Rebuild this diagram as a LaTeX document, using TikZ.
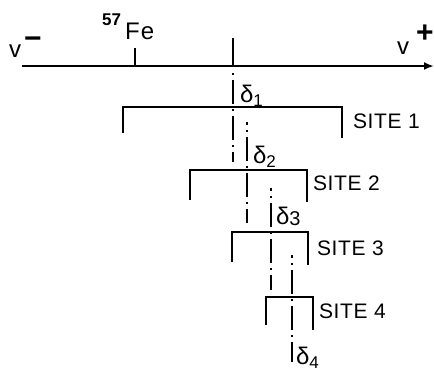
\documentclass[tikz,border=0pt]{standalone}
\usepackage{fontspec}
\setmainfont{Liberation Sans}
\usetikzlibrary{arrows.meta}
\begin{document}
\begin{tikzpicture}[x=1pt,y=-1pt,line width=2.1pt,
  lbl/.style={font=\fontsize{21}{21}\selectfont\addfontfeatures{LetterSpace=3},anchor=base west,inner sep=0pt},
  dl/.style={font=\fontsize{24}{24}\selectfont,anchor=base west,inner sep=0pt},
  big/.style={font=\fontsize{24}{24}\selectfont\addfontfeatures{LetterSpace=5},anchor=base west,inner sep=0pt},
  sup/.style={font=\fontsize{30}{30}\selectfont\bfseries,inner sep=0pt},
  cl/.style={dash pattern=on 2pt off 5pt on 24pt off 5pt},
  leg/.style={line width=2.3pt}]
\useasboundingbox (0,0) rectangle (434,375);
% axis
\coordinate (ax0) at (22,66);
\coordinate (ax1) at (434,66);
\draw[-{Latex[length=10pt,width=8pt]}] (ax0) -- (ax1);
\node[big] (vm) at (8,57) {v};
\node[sup] (vms) at (33,43) {−};
\node[big] (vp) at (396,54) {v};
\node[sup] (vps) at (425,34) {+};
% 57Fe
\coordinate (fe0) at (135,48);
\coordinate (fe1) at (135,66);
\draw (fe0) -- (fe1);
\node[big] (fe) at (124,39) {Fe};
\node[font=\fontsize{17}{17}\selectfont\bfseries,anchor=base west,inner sep=0pt] (n57) at (101,25) {57};
% centre tick
\coordinate (c0) at (233,38);
\coordinate (c1) at (233,66);
\draw (c0) -- (c1);
% vertical centre lines
\coordinate (l1a) at (233,73);
\coordinate (l1b) at (233,162);
\draw[cl,dash phase=0pt] (l1a) -- (l1b);
\coordinate (l2a) at (247,122);
\coordinate (l2b) at (247,223);
\draw[cl,dash phase=-8pt] (l2a) -- (l2b);
\coordinate (l3a) at (271,188);
\coordinate (l3b) at (271,290);
\draw[cl,dash phase=-8pt] (l3a) -- (l3b);
\coordinate (l4a) at (292,255);
\coordinate (l4b) at (292,362);
\draw[cl,dash phase=-8pt] (l4a) -- (l4b);
% deltas
\node[dl] (d1) at (239,102) {δ\raisebox{-4pt}{\fontsize{17}{17}\selectfont 1}};
\node[dl] (d2) at (252,163) {δ\raisebox{-4pt}{\fontsize{17}{17}\selectfont 2}};
\node[dl] (d3) at (275,224) {δ\raisebox{-1pt}{\fontsize{20}{20}\selectfont 3}};
\node[dl] (d4) at (295,364) {δ\raisebox{-4pt}{\fontsize{17}{17}\selectfont 4}};
% site 1
\coordinate (s1l) at (123,133);
\coordinate (s1r) at (342,138);
\draw[leg] (s1l) |- (233,107) -| (s1r);
\node[lbl] (t1) at (352,128) {SITE 1};
% site 2
\coordinate (s2l) at (190,200);
\coordinate (s2r) at (307,202);
\draw[leg] (s2l) |- (247,170) -| (s2r);
\node[lbl] (t2) at (312,190) {SITE 2};
% site 3
\coordinate (s3l) at (232,262);
\coordinate (s3r) at (308,265);
\draw[leg] (s3l) |- (271,232) -| (s3r);
\node[lbl] (t3) at (316,255) {SITE 3};
% site 4
\coordinate (s4l) at (266,325);
\coordinate (s4r) at (313,330);
\draw[leg] (s4l) |- (292,297) -| (s4r);
\node[lbl] (t4) at (318,318) {SITE 4};
\end{tikzpicture}
\end{document}
